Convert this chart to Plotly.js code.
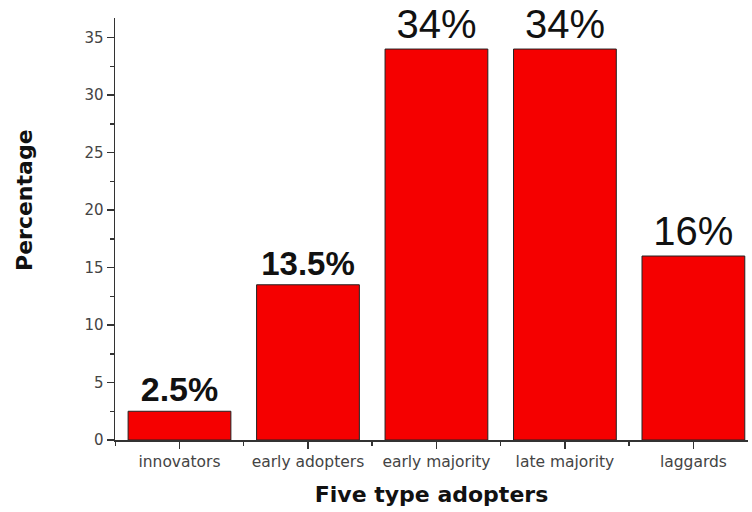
<!DOCTYPE html>
<html>
<head>
<meta charset="utf-8">
<script src="https://cdn.plot.ly/plotly-3.0.1.min.js"></script>
<style>html,body{margin:0;padding:0;background:#fff;}#chart{width:752px;height:512px;}</style>
</head>
<body>
<div id="chart"></div>
<script>
const categories = ["innovators", "early adopters", "early majority", "late majority", "laggards"];
const percentages = [2.5, 13.5, 34, 34, 16];
const labels = ["2.5%", "13.5%", "34%", "34%", "16%"];
const labelWeights = ["bold", "bold", "normal", "normal", "normal"];
const labelSizes = [34, 33, 40, 40, 40];
const yTicks = [0, 5, 10, 15, 20, 25, 30, 35];
const yTitle = "Percentage";
const xTitle = "Five type adopters";

const positions = categories.map((c, i) => i);

const trace = {
  type: "bar",
  x: positions,
  y: percentages,
  width: 0.8,
  text: labels,
  textposition: "outside",
  cliponaxis: false,
  constraintext: "none",
  textfont: {family: "Liberation Sans, Arial, sans-serif", size: labelSizes, color: "#111", weight: labelWeights},
  marker: {color: "#f50000", line: {color: "#222", width: 1}},
  hoverinfo: "none"
};

const layout = {
  width: 752, height: 512,
  margin: {l: 115, r: 4, t: 18, b: 72},
  paper_bgcolor: "#fff", plot_bgcolor: "#fff",
  showlegend: false,
  font: {family: "DejaVu Sans, sans-serif", color: "#333"},
  xaxis: {
    range: [-0.502, 4.425],
    tickmode: "array", tickvals: positions, ticktext: categories,
    ticks: "outside", ticklen: 7, tickwidth: 1.5, tickcolor: "#333",
    minor: {tick0: 0.5, dtick: 1, ticks: "outside", ticklen: 4, tickwidth: 1.5, tickcolor: "#333"},
    showline: true, linecolor: "#333", linewidth: 1.5,
    showgrid: false, zeroline: false,
    tickfont: {size: 15.5, color: "#444", family: "DejaVu Sans, sans-serif"},
    title: {text: xTitle, font: {size: 22, family: "DejaVu Sans, sans-serif", weight: "bold", color: "#111"}, standoff: 16}
  },
  yaxis: {
    range: [0, 36.7],
    tickmode: "array", tickvals: yTicks,
    ticks: "outside", ticklen: 7, tickwidth: 1.5, tickcolor: "#333",
    minor: {tick0: 2.5, dtick: 5, ticks: "outside", ticklen: 4, tickwidth: 1.5, tickcolor: "#333"},
    showline: true, linecolor: "#333", linewidth: 1.5,
    showgrid: false, zeroline: false,
    tickfont: {size: 15, color: "#444", family: "DejaVu Sans, sans-serif"}
  },
  annotations: [{
    text: yTitle, xref: "paper", yref: "paper", x: -0.142, y: 0.569,
    xanchor: "center", yanchor: "middle", textangle: -90, showarrow: false,
    font: {size: 22, family: "DejaVu Sans, sans-serif", weight: "bold", color: "#111"}
  }]
};

Plotly.newPlot("chart", [trace], layout, {staticPlot: true, displayModeBar: false});
</script>
</body>
</html>
